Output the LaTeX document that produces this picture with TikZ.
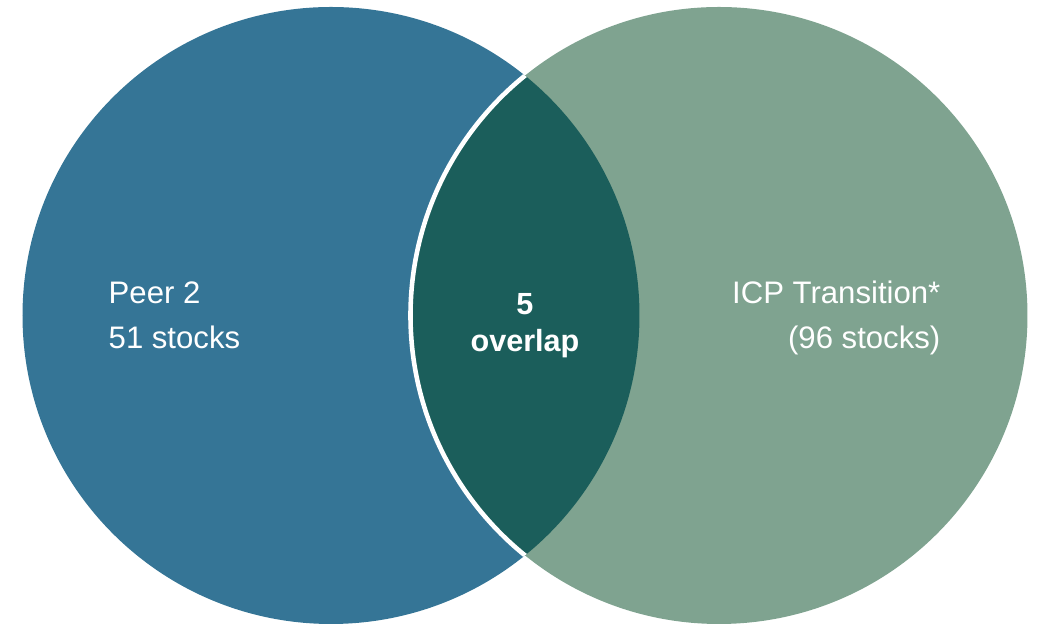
\documentclass[tikz,border=0pt]{standalone}
\usepackage{fontspec}
\setmainfont{Liberation Sans}
\usepackage{tikz}
\definecolor{peerblue}{HTML}{357596}
\definecolor{icpgreen}{HTML}{7FA390}
\definecolor{overlapteal}{HTML}{1B5E5B}

\begin{document}
\begin{tikzpicture}[x=0.01cm,y=-0.01cm]

%Define circle parameters
\def\rad{308.5}          %Radius of both circles.
\def\cy{315.5}           %Vertical centre.
\def\lx{331}             %Centre of PEER circle.
\def\rx{719}             %Centre of ICP circle.

% Define coordinates
\coordinate (lc) at (\lx,\cy);
\coordinate (rc) at (\rx,\cy);

\useasboundingbox (0,0) rectangle (1038,625);

% PEER circle
\fill[peerblue] (lc) circle[radius=\rad];

% ICP circle
\fill[icpgreen] (rc) circle[radius=\rad];

% Overlap, with white rim on its left edge
\begin{scope}
  \clip (lc) circle[radius=\rad];
  \fill[overlapteal] (rc) circle[radius=\rad];
  \draw[white,line width=1.3pt] (rc) circle[radius=\rad];
\end{scope}

% Labels (base anchor sits on the last line)
\tikzset{lbl/.style={text=white,inner sep=0pt,font=\fontsize{8.85}{12.8}\selectfont}}
\node[lbl,anchor=base west,align=left] (peer) at (108,349) {Peer 2\\51 stocks};
\node[lbl,anchor=base east,align=right] (icp) at (941,349) {ICP Transition*\\(96 stocks)};
\node[lbl,anchor=base,align=center,font=\fontsize{8.7}{10.8}\selectfont\bfseries] (ovl) at (525,352) {5\\overlap};

\end{tikzpicture}
\end{document}
